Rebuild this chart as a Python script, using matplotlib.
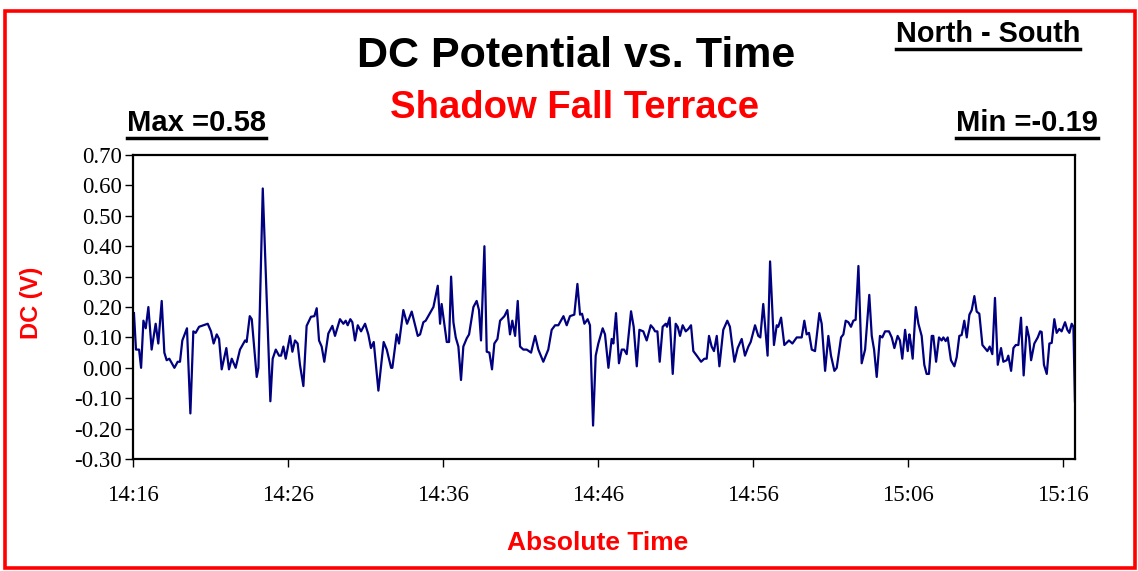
import matplotlib
matplotlib.use("Agg")
import matplotlib.pyplot as plt
from matplotlib.patches import Rectangle
from matplotlib.lines import Line2D

# minutes after 14:16
t_min = [0.06, 0.19, 0.39, 0.52, 0.67, 0.82, 0.99, 1.20, 1.46, 1.63, 1.85, 2.02, 2.17, 2.34, 2.67, 2.88,
         3.03, 3.18, 3.48, 3.70, 3.89, 4.04, 4.26, 4.54, 4.82, 5.03, 5.20, 5.40, 5.55, 5.72, 6.02, 6.19,
         6.37, 6.62, 6.90, 7.23, 7.33, 7.53, 7.66, 7.98, 8.09, 8.37, 8.86, 9.01, 9.21, 9.42, 9.55, 9.70,
         9.85, 10.13, 10.28, 10.45, 10.62, 10.77, 10.99, 11.20, 11.48, 11.70, 11.85, 12.00, 12.17, 12.34,
         12.60, 12.86, 13.03, 13.35, 13.57, 13.72, 13.85, 14.02, 14.15, 14.32, 14.50, 14.71, 14.97, 15.18,
         15.35, 15.53, 15.83, 16.17, 16.37, 16.65, 16.73, 17.01, 17.16, 17.44, 17.68, 17.98, 18.15, 18.37,
         18.52, 18.73, 18.88, 19.16, 19.38, 19.66, 19.81, 19.91, 20.24, 20.39, 20.52, 20.67, 20.82, 20.99,
         21.16, 21.31, 21.53, 21.68, 21.96, 22.17, 22.32, 22.45, 22.67, 22.82, 22.99, 23.16, 23.31, 23.51,
         23.68, 23.96, 24.15, 24.32, 24.47, 24.65, 24.82, 24.97, 25.18, 25.40, 25.68, 25.94, 26.15, 26.47,
         26.79, 27.01, 27.23, 27.44, 27.77, 27.98, 28.19, 28.47, 28.67, 28.84, 28.97, 29.12, 29.33, 29.48,
         29.68, 29.85, 30.02, 30.30, 30.45, 30.67, 30.88, 30.99, 31.16, 31.35, 31.53, 31.68, 31.85, 32.13,
         32.30, 32.50, 32.67, 32.92, 33.14, 33.40, 33.57, 33.68, 33.83, 33.98, 34.17, 34.37, 34.45, 34.62,
         34.82, 35.01, 35.14, 35.29, 35.46, 35.66, 35.83, 36.00, 36.15, 36.37, 36.65, 36.86, 37.01, 37.16,
         37.33, 37.48, 37.66, 37.83, 38.08, 38.34, 38.51, 38.63, 38.80, 39.01, 39.27, 39.48, 39.70, 39.85,
         40.13, 40.34, 40.47, 40.66, 40.94, 41.10, 41.35, 41.53, 41.63, 41.81, 42.02, 42.32, 42.54, 42.82,
         43.14, 43.31, 43.46, 43.61, 43.79, 44.00, 44.28, 44.43, 44.65, 44.86, 45.03, 45.25, 45.40, 45.68,
         45.83, 45.98, 46.15, 46.32, 46.47, 46.62, 46.80, 47.01, 47.23, 47.50, 47.66, 47.81, 47.98, 48.19,
         48.34, 48.52, 48.77, 48.95, 49.12, 49.33, 49.48, 49.63, 49.81, 49.98, 50.09, 50.17, 50.30, 50.50,
         50.67, 50.88, 51.05, 51.20, 51.35, 51.53, 51.63, 51.81, 52.00, 52.17, 52.28, 52.43, 52.56, 52.77,
         52.99, 53.14, 53.31, 53.46, 53.63, 53.79, 53.96, 54.11, 54.28, 54.43, 54.60, 54.80, 54.96, 55.12,
         55.27, 55.44, 55.61, 55.79, 56.00, 56.15, 56.37, 56.47, 56.65, 56.80, 56.95, 57.12, 57.29, 57.46,
         57.66, 57.81, 57.94, 58.15, 58.37, 58.52, 58.62, 58.77, 58.95, 59.12, 59.27, 59.44, 59.59, 59.76,
         59.91, 60.13, 60.28, 60.41, 60.56, 60.67, 60.77]

dc_volts = [0.18, 0.06, 0.06, 0.00, 0.155, 0.13, 0.20, 0.06, 0.145, 0.08, 0.22, 0.05, 0.025, 0.03, 0.00, 0.02,
            0.02, 0.09, 0.13, -0.15, 0.12, 0.115, 0.135, 0.14, 0.145, 0.12, 0.08, 0.11, 0.095, -0.005, 0.065, -0.005,
            0.03, 0.00, 0.06, 0.09, 0.085, 0.17, 0.16, -0.03, 0.00, 0.59, -0.11, 0.03, 0.06, 0.04, 0.04, 0.07,
            0.03, 0.105, 0.053, 0.09, 0.08, 0.01, -0.06, 0.138, 0.168, 0.17, 0.196, 0.09, 0.07, 0.02,
            0.113, 0.138, 0.105, 0.16, 0.145, 0.155, 0.14, 0.16, 0.15, 0.09, 0.14, 0.12, 0.145, 0.11,
            0.065, 0.085, -0.075, 0.085, 0.06, 0.00, 0.00, 0.11, 0.08, 0.19, 0.145, 0.185, 0.15, 0.105,
            0.11, 0.15, 0.155, 0.18, 0.20, 0.27, 0.145, 0.21, 0.085, 0.085, 0.30, 0.15, 0.10, 0.07,
            -0.04, 0.07, 0.097, 0.11, 0.20, 0.22, 0.19, 0.09, 0.40, 0.053, 0.05, -0.005, 0.08, 0.095,
            0.155, 0.17, 0.19, 0.11, 0.155, 0.105, 0.22, 0.07, 0.06, 0.06, 0.05, 0.105, 0.06, 0.02,
            0.06, 0.125, 0.14, 0.14, 0.17, 0.14, 0.17, 0.175, 0.276, 0.175, 0.178, 0.145, 0.16, 0.14,
            -0.19, 0.04, 0.08, 0.13, 0.11, 0.00, 0.095, 0.08, 0.18, 0.015, 0.06, 0.06, 0.045, 0.186,
            0.135, 0.005, 0.125, 0.12, 0.09, 0.14, 0.13, 0.12, 0.12, 0.02, 0.135, 0.145, 0.135, 0.165,
            -0.02, 0.145, 0.135, 0.105, 0.14, 0.12, 0.128, 0.14, 0.055, 0.04, 0.02, 0.03, 0.03, 0.105,
            0.07, 0.055, 0.105, 0.005, 0.125, 0.155, 0.135, 0.085, 0.02, 0.065, 0.095, 0.04, 0.07, 0.085,
            0.14, 0.105, 0.10, 0.21, 0.04, 0.35, 0.075, 0.14, 0.135, 0.165, 0.075, 0.09, 0.08, 0.10,
            0.10, 0.155, 0.11, 0.115, 0.06, 0.055, 0.18, 0.145, -0.01, 0.105, 0.04, -0.01, 0.00, 0.10,
            0.11, 0.155, 0.15, 0.135, 0.155, 0.158, 0.335, 0.015, 0.06, 0.24, 0.105, 0.06, -0.03, 0.105,
            0.10, 0.12, 0.12, 0.10, 0.065, 0.105, 0.09, 0.03, 0.125, 0.055, 0.11, 0.085, 0.03, 0.20,
            0.145, 0.105, 0.01, -0.02, -0.02, 0.105, 0.105, 0.02, 0.10, 0.09, 0.10, 0.088, 0.10, 0.025,
            0.005, 0.035, 0.105, 0.108, 0.155, 0.10, 0.175, 0.19, 0.236, 0.185, 0.178, 0.075, 0.065, 0.055,
            0.07, 0.045, 0.23, 0.01, 0.065, 0.02, 0.025, 0.04, -0.01, 0.065, 0.075, 0.075, 0.165, -0.025,
            0.135, 0.10, 0.025, 0.08, 0.10, 0.12, 0.118, 0.01, -0.02, 0.08, 0.082, 0.16, 0.115, 0.128,
            0.12, 0.15, 0.125, 0.115, 0.145, 0.135, -0.11]

x_ticks = [0, 10, 20, 30, 40, 50, 60]
x_labels = ["14:16", "14:26", "14:36", "14:46", "14:56", "15:06", "15:16"]
y_ticks = [-0.3, -0.2, -0.1, 0.0, 0.1, 0.2, 0.3, 0.4, 0.5, 0.6, 0.7]

sans = "Liberation Sans"
serif = "Liberation Serif"

fig = plt.figure(figsize=(11.38, 5.71), dpi=100)
fig.patches.append(Rectangle((0.004, 0.006), 0.993, 0.975, transform=fig.transFigure,
                             fill=False, edgecolor="red", linewidth=2.6))

ax = fig.add_axes([0.1169, 0.1961, 0.8277, 0.5324])
ax.plot(t_min, dc_volts, color="#000080", linewidth=1.6)
ax.set_xlim(0, 60.77)
ax.set_ylim(-0.3, 0.7)
ax.set_xticks(x_ticks)
ax.set_xticklabels(x_labels)
ax.set_yticks(y_ticks)
ax.set_yticklabels([f"{v:.2f}" for v in y_ticks])
for s in ax.spines.values():
    s.set_linewidth(1.6)
ax.tick_params(direction="out", length=6, width=1, labelsize=16.5)
ax.tick_params(axis="y", pad=2)
ax.tick_params(axis="x", pad=13)
for lab in ax.get_xticklabels() + ax.get_yticklabels():
    lab.set_fontfamily(serif)

ax.set_ylabel("DC (V)", color="red", fontweight="bold", fontsize=17, family=sans)
ax.yaxis.set_label_coords(-0.0955, 0.513)
fig.text(0.5255, 0.0368, "Absolute Time", color="red", fontweight="bold", fontsize=19,
         family=sans, ha="center", va="baseline")

fig.text(0.506, 0.8827, "DC Potential vs. Time", fontweight="bold", fontsize=31,
         family=sans, ha="center", va="baseline")
fig.text(0.505, 0.7933, "Shadow Fall Terrace", color="red", fontweight="bold", fontsize=27.5,
         family=sans, ha="center", va="baseline")

under = []
under.append(fig.text(0.787, 0.9273, "North - South", fontweight="bold", fontsize=20.8,
                      family=sans, ha="left", va="baseline"))
under.append(fig.text(0.1116, 0.7706, "Max =0.58", fontweight="bold", fontsize=21,
                      family=sans, ha="left", va="baseline"))
under.append(fig.text(0.840, 0.7706, "Min =-0.19", fontweight="bold", fontsize=21,
                      family=sans, ha="left", va="baseline"))

fig.canvas.draw()
W, H = fig.bbox.width, fig.bbox.height
for t in under:
    bb = t.get_window_extent()
    yy = (bb.y0 - 1) / H
    fig.lines.append(Line2D([bb.x0 / W, bb.x1 / W], [yy, yy], transform=fig.transFigure,
                            color="black", linewidth=2.5))

fig.savefig("out.png", dpi=100)
